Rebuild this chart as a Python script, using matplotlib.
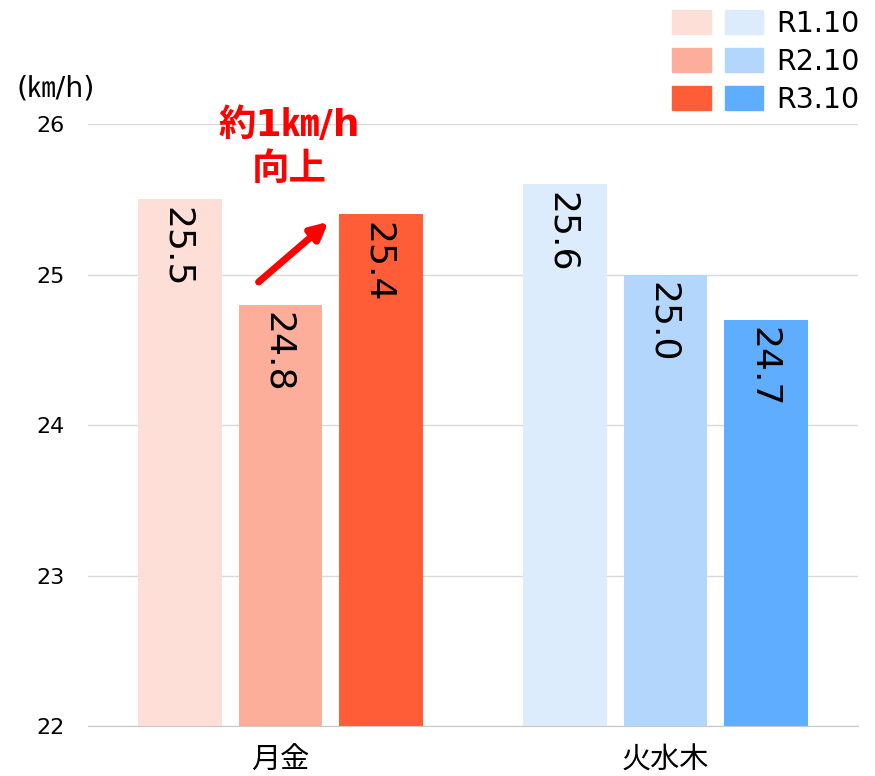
import matplotlib
matplotlib.use('Agg')
import numpy as np
import matplotlib.pyplot as plt
from matplotlib.patches import Patch
from matplotlib.legend_handler import HandlerTuple

plt.rcParams['font.family'] = ['DejaVu Sans', 'Noto Sans CJK JP']

categories = ['月金', '火水木']
periods = ['R1.10', 'R2.10', 'R3.10']
speed_getsukin = [25.5, 24.8, 25.4]
speed_kasuimoku = [25.6, 25.0, 24.7]
colors_getsukin = ['#fddfd8', '#fcae9a', '#ff5c38']
colors_kasuimoku = ['#ddecfc', '#b2d6fc', '#5eadfe']
yticks = [22, 23, 24, 25, 26]

fig = plt.figure(figsize=(8.75, 7.76), dpi=100)
ax = fig.add_axes([0.1006, 0.0644, 0.88, 0.7758])

x = np.arange(len(categories))
step = 0.262
width = 0.218
offsets = [-step, 0, step]

for i in range(len(periods)):
    vals = [speed_getsukin[i], speed_kasuimoku[i]]
    cols = [colors_getsukin[i], colors_kasuimoku[i]]
    bars = ax.bar(x + offsets[i], np.array(vals) - 22, width, bottom=22, color=cols, zorder=2)
    for b, v in zip(bars, vals):
        ax.text(b.get_x() + b.get_width() / 2 - 0.008, v - 0.05, f'{v:.1f}', rotation=270,
                ha='center', va='top', fontsize=26, color='black', zorder=3)

ax.set_xlim(-0.5, 1.5)
ax.set_ylim(22, 26)
ax.set_yticks(yticks)
ax.set_xticks(x)
ax.set_xticklabels(categories, fontsize=21)
ax.tick_params(axis='y', length=0, pad=17, labelsize=16)
ax.tick_params(axis='x', length=0, pad=15)
ax.grid(axis='y', color='#d9d9d9', linewidth=1, zorder=0)
for s in ['top', 'right', 'left']:
    ax.spines[s].set_visible(False)
ax.spines['bottom'].set_color('#c8c8c8')

fig.text(0.019, 0.886, '(㎞/h)', fontsize=20.5, ha='left', va='center')

# annotation: arrow from the R2.10 bar toward the R3.10 bar
ax.annotate('', xy=(x[0] + step - width * 0.63, 25.35), xytext=(x[0] - 0.057, 24.95),
            arrowprops=dict(arrowstyle='-|>,head_length=1.0,head_width=0.5',
                            color='#ff0000', lw=5, shrinkA=0, shrinkB=0), zorder=4)
ax.text(x[0] + 0.022, 25.84, '約1㎞/h\n向上', color='#ff0000', fontsize=27, fontweight='bold',
        ha='center', va='center', linespacing=1.3)

handles = [(Patch(color=colors_getsukin[i]), Patch(color=colors_kasuimoku[i])) for i in range(3)]
fig.legend(handles, periods, handler_map={tuple: HandlerTuple(ndivide=None, pad=0.5)},
           loc='upper right', bbox_to_anchor=(1.005, 1.013), frameon=False, fontsize=20.5,
           handlelength=3.2, handleheight=0.9, handletextpad=0.45, labelspacing=0.35,
           borderpad=0.2)

fig.savefig('out.png', dpi=100)
